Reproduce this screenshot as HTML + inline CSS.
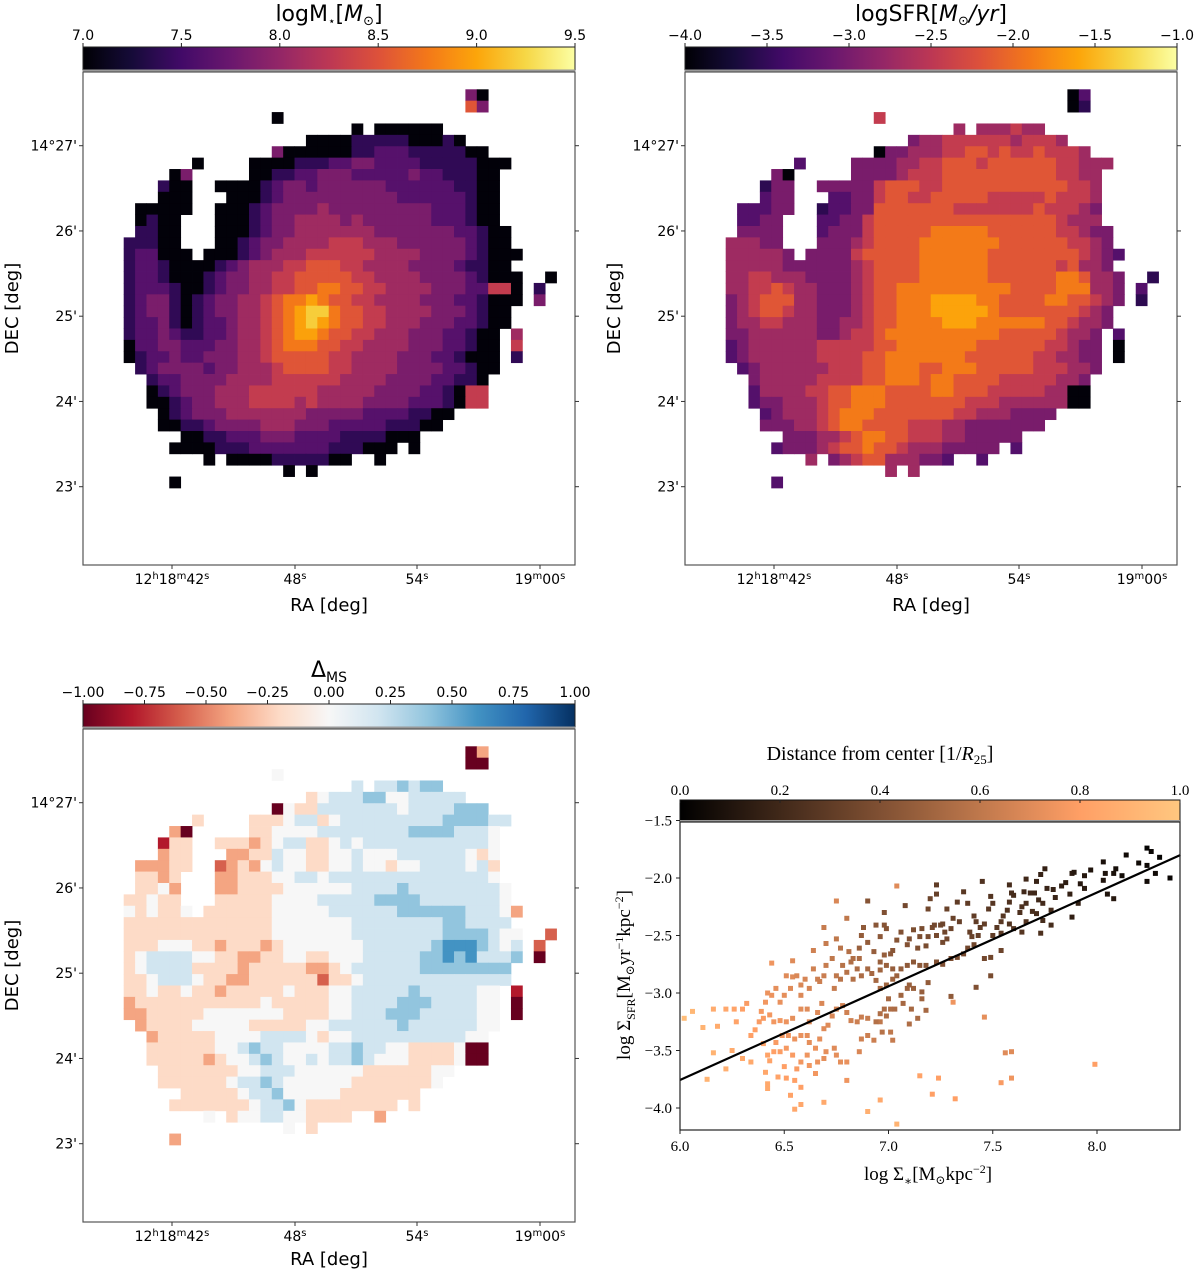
<!DOCTYPE html>
<html><head><meta charset="utf-8"><title>Galaxy maps</title>
<style>
html,body{margin:0;padding:0;background:#fff;}
svg{display:block;}
.sans{font-family:"DejaVu Sans","Liberation Sans",sans-serif;}
.serif{font-family:"Liberation Serif","DejaVu Serif",serif;}
</style></head>
<body>
<svg id="fig" width="1200" height="1271" viewBox="0 0 1200 1271" xmlns="http://www.w3.org/2000/svg">
<defs>
<linearGradient id="g-inferno" x1="0" x2="1" y1="0" y2="0"></linearGradient>
<linearGradient id="g-rdbu" x1="0" x2="1" y1="0" y2="0"></linearGradient>
<linearGradient id="g-copper" x1="0" x2="1" y1="0" y2="0"></linearGradient>
</defs>
</svg>
<script>
// ---------- data ----------
const massTicks = ["7.0","7.5","8.0","8.5","9.0","9.5"];
const sfrTicks = ["−4.0","−3.5","−3.0","−2.5","−2.0","−1.5","−1.0"];
const msTicks = ["−1.00","−0.75","−0.50","−0.25","0.00","0.25","0.50","0.75","1.00"];
const decTicks = ["14°27'","26'","25'","24'","23'"];
const distTicks = ["0.0","0.2","0.4","0.6","0.8","1.0"];
const sxTicks = [6.0,6.5,7.0,7.5,8.0];
const syTicks = [-1.5,-2.0,-2.5,-3.0,-3.5,-4.0];
const fitLine = [[6.0,-3.757],[8.4,-1.80]];

// map rows: [startColumn, "level digits"]
const massMap = [
[[30,"30"]],[[30,"63"]],[[13,"0"]],[[20,"0"],[22,"000000"]],
[[16,"00001111100010"]],
[[13,"3000000112221111100"]],
[[6,"0"],[11,"00001112233222211111000"]],
[[4,"03"],[11,"0011223332222232211100"]],
[[3,"100"],[8,"0000123323333332222221100"]],
[[3,"000"],[9,"000123333333333222222100"]],
[[1,"00000"],[8,"0001233334333333333222100"]],
[[1,"0100"],[8,"0001233444434333333222100"]],
[[1,"1100"],[8,"00012334444444333333322100"]],
[[0,"11100"],[8,"00123344445554443333332100"]],
[[0,"122000"],[7,"000123444555555444433332100"],[34,"0"]],
[[0,"1221000012344455666554444333321100"]],
[[0,"12210001233445566666554444333321000"],[37,"0"]],
[[0,"12221001233445566776655444433322550"],[36,"1"]],
[[0,"12331012334456778766554444333221000"],[36,"3"]],
[[0,"1233101233445678997665544443332100"]],
[[0,"1223101223445678987665544433322100"]],
[[0,"122321122344567887665544433322100"],[34,"4"]],
[[0,"022332223344567776655444433322100"],[34,"5"]],
[[0,"012232233344566666554444333221000"],[34,"1"]],
[[1,"12333323344456666554444333322100"]],
[[2,"122333344445555554444333322110"]],
[[2,"012333444555555444443333221055"]],
[[2,"001233444555545444433332221055"]],
[[3,"01233344444443333322221100"]],
[[3,"0011233334443332222211100"]],
[[5,"001122233322221111000"]],
[[4,"00001112222222111000"],[25,"0"]],
[[7,"0"],[9,"00001111100"],[22,"0"]],
[[14,"0"],[16,"0"]],
[[4,"0"]]
];
const sfrMap = [
[[30,"02"]],[[30,"01"]],[[13,"5"]],[[20,"4"],[22,"444544"]],
[[16,"34455555545554"]],
[[13,"0334445566565565554"]],
[[6,"2"],[11,"33334455666566666655444"]],
[[4,"30"],[11,"3333455566666666665544"]],
[[3,"133"],[8,"3333356665566666666666554"]],
[[3,"233"],[9,"223356655666665555565554"]],
[[1,"22233"],[8,"1223366666665555555655543"]],
[[1,"2233"],[8,"2233566666666666666665444"]],
[[1,"3333"],[8,"23335666667777766666655433"]],
[[0,"44433"],[8,"33345666677777776666665543"]],
[[0,"444443"],[7,"333356666677777766666666543"],[34,"2"]],
[[0,"4444433333345666677777766666656443"]],
[[0,"44554443333456666777777666666776443"],[37,"1"]],
[[0,"44556544333456677777777776666777443"],[36,"2"]],
[[0,"34566644333456677788887766667766543"],[36,"1"]],
[[0,"3456654433345667778888876666666543"]],
[[0,"3445544433445667777888777777665443"]],
[[0,"334444443345567777777777666665443"],[34,"2"]],
[[0,"234444445555566777777766666655433"],[34,"0"]],
[[0,"234444445555667777777666666554433"],[34,"0"]],
[[1,"23444444555667776677766666555443"]],
[[2,"344444555566777677666655555443"]],
[[2,"244445566777666677666555554400"]],
[[2,"233444566777666666655544444400"]],
[[3,"23444567776666666554443333"]],
[[3,"3334456776666555443333333"]],
[[5,"333445677665554433333"]],
[[4,"23334566766544433333"],[25,"2"]],
[[7,"4"],[9,"34566444332"],[22,"2"]],
[[14,"4"],[16,"4"]],
[[4,"2"]]
];
const msMap = [
[[30,"03"]],[[30,"00"]],[[13,"5"]],[[20,"6"],[22,"667677"]],
[[16,"45666775566666"]],
[[13,"0544666666656666777"]],
[[6,"4"],[11,"44456645666666666777766"]],
[[4,"30"],[11,"4455556666666677776665"]],
[[3,"144"],[8,"4443456644565666666666665"]],
[[3,"344"],[9,"334465544556555666666545"]],
[[1,"33344"],[8,"2343565544556554556666564"]],
[[1,"4434"],[8,"3344455665666666666666665"]],
[[1,"4453"],[8,"33444455555566667666666665"]],
[[0,"44544"],[8,"44444555566666777766666665"]],
[[0,"545445"],[7,"444444555556666667777776665"],[34,"3"]],
[[0,"4444444444444555555566666666776666"]],
[[0,"44444444444445555555666666667777655"],[37,"2"]],
[[0,"44455544344434555555566666678887656"],[36,"2"]],
[[0,"45666655443344554455566666778786667"],[36,"0"]],
[[0,"4566664444344444334566666677777777"]],
[[0,"4456665443344444424456666666666666"]],
[[0,"445445443444445444556666676666655"],[34,"1"]],
[[0,"344444444444544444556666777666655"],[34,"0"]],
[[0,"334444455555554444556667776666655"],[34,"0"]],
[[1,"34444555554444455666666766666655"]],
[[2,"344444555566665455666666666655"]],
[[2,"444444556766555566766554444500"]],
[[2,"444443455676556566765554444500"]],
[[3,"44444445566655555544444455"]],
[[3,"4444445667655555544444445"]],
[[5,"444445667555554444444"]],
[[4,"44444445667544444444"],[25,"4"]],
[[7,"5"],[9,"45566554444"],[22,"3"]],
[[14,"5"],[16,"4"]],
[[4,"3"]]
];

// scatter points: [logSigmaStar, logSigmaSFR, distance]
const scatterPts = [
[8.24,-1.74,.02],[8.26,-1.77,.03],[8.30,-1.82,.02],[8.35,-2.00,.03],[8.20,-1.87,.05],[8.24,-1.89,.04],[8.28,-1.96,.05],[8.24,-2.03,.06],[8.14,-1.80,.05],[8.09,-1.92,.07],[8.08,-1.96,.08],[8.12,-1.98,.06],[8.03,-1.86,.08],[8.04,-1.96,.09],[8.03,-2.02,.1],[8.05,-2.14,.1],[8.08,-2.18,.12],[7.97,-1.93,.1],[7.94,-1.98,.12],[7.92,-2.05,.12],[7.94,-2.09,.13],[7.89,-1.95,.12],[7.88,-1.96,.14],[7.85,-2.04,.14],[7.83,-2.07,.15],[7.88,-2.34,.15],[7.91,-2.22,.16],[7.87,-2.14,.16],[7.79,-2.10,.17],[7.80,-2.17,.18],[7.76,-2.09,.18],[7.75,-1.92,.16],[7.73,-1.97,.17],[7.71,-2.03,.18],[7.66,-2.01,.2],[7.70,-2.13,.2],[7.68,-2.13,.21],[7.65,-2.12,.2],[7.72,-2.19,.2],[7.74,-2.22,.21],[7.78,-2.28,.22],[7.78,-2.41,.22],[7.73,-2.48,.24],[7.74,-2.37,.22],[7.71,-2.31,.22],[7.69,-2.29,.23],[7.66,-2.22,.23],[7.64,-2.25,.24],[7.63,-2.30,.24],[7.60,-2.15,.22],[7.58,-2.06,.22],[7.59,-2.13,.23],[7.58,-2.21,.25],[7.57,-2.28,.25],[7.58,-2.40,.26],[7.60,-2.44,.26],[7.64,-2.47,.27],[7.66,-2.38,.26],[7.55,-2.33,.27],[7.54,-2.38,.28],[7.52,-2.43,.28],[7.50,-2.50,.3],[7.54,-2.48,.29],[7.50,-2.22,.27],[7.48,-2.27,.28],[7.49,-2.16,.26],[7.45,-2.03,.25],[7.41,-2.33,.3],[7.42,-2.38,.3],[7.44,-2.43,.3],[7.46,-2.40,.31],[7.43,-2.50,.32],[7.40,-2.51,.33],[7.39,-2.47,.32],[7.36,-2.12,.28],[7.38,-2.22,.3],[7.34,-2.38,.32],[7.33,-2.21,.3],[7.31,-2.35,.33],[7.30,-2.44,.34],[7.28,-2.27,.33],[7.26,-2.40,.34],[7.25,-2.41,.35],[7.27,-2.47,.35],[7.28,-2.53,.36],[7.26,-2.56,.36],[7.23,-2.06,.3],[7.23,-2.14,.32],[7.20,-2.18,.34],[7.19,-2.27,.35],[7.22,-2.41,.36],[7.23,-2.50,.37],[7.21,-2.43,.37],[7.19,-2.51,.38],[7.18,-2.59,.38],[7.16,-2.44,.38],[7.15,-2.51,.39],[7.14,-2.61,.4],[7.12,-2.45,.39],[7.10,-2.53,.4],[7.09,-2.58,.41],[7.08,-2.24,.36],[7.06,-2.47,.4],[7.04,-2.54,.42],[7.02,-2.63,.43],[7.01,-2.66,.44],[6.98,-2.30,.4],[6.98,-2.41,.42],[6.99,-2.44,.42],[6.96,-2.51,.44],[6.94,-2.41,.43],[6.90,-2.20,.42],[6.88,-2.43,.45],[6.87,-2.50,.46],[6.86,-2.61,.48],[6.90,-2.56,.46],[6.93,-2.64,.47],[6.96,-2.73,.48],[6.98,-2.67,.47],[6.99,-2.76,.48],[7.02,-2.79,.47],[7.06,-2.79,.46],[7.09,-2.76,.45],[7.12,-2.73,.44],[7.15,-2.76,.44],[7.18,-2.76,.42],[7.23,-2.73,.4],[7.26,-2.75,.4],[7.30,-2.70,.39],[7.33,-2.69,.38],[7.36,-2.66,.37],[7.38,-2.61,.36],[7.41,-2.58,.35],[7.46,-2.70,.36],[7.49,-2.69,.35],[7.54,-2.63,.34],[7.42,-2.95,.4],[7.49,-2.85,.38],[7.30,-3.03,.45],[7.19,-2.91,.46],[7.16,-2.99,.47],[7.12,-2.96,.48],[7.10,-2.93,.48],[7.09,-2.96,.49],[7.06,-3.02,.5],[7.04,-2.85,.49],[7.02,-2.88,.5],[7.00,-3.05,.52],[6.98,-3.14,.54],[6.99,-3.20,.55],[6.96,-3.18,.55],[6.94,-3.25,.56],[6.97,-3.34,.57],[7.01,-3.14,.55],[7.03,-3.14,.54],[7.07,-3.09,.52],[7.11,-3.14,.52],[7.10,-3.27,.55],[7.14,-3.22,.53],[7.18,-3.15,.52],[7.16,-3.05,.5],[6.99,-2.93,.5],[6.96,-2.96,.52],[6.94,-2.89,.52],[6.92,-2.83,.52],[6.90,-2.79,.52],[6.87,-2.85,.54],[6.85,-2.79,.54],[6.83,-2.88,.56],[6.82,-2.73,.55],[6.80,-2.82,.57],[6.78,-2.76,.57],[6.77,-2.88,.58],[6.75,-2.85,.6],[6.74,-2.96,.62],[6.73,-2.70,.6],[6.70,-2.76,.62],[6.69,-2.85,.63],[6.67,-2.90,.64],[6.66,-2.88,.64],[6.64,-2.79,.65],[6.62,-2.96,.67],[6.60,-2.88,.67],[6.58,-2.93,.68],[6.58,-3.02,.69],[6.56,-2.85,.68],[6.54,-2.86,.7],[6.53,-2.96,.7],[6.51,-2.85,.7],[6.50,-3.02,.72],[6.48,-3.08,.73],[6.46,-2.96,.72],[6.44,-3.02,.74],[6.42,-3.00,.74],[6.41,-3.08,.76],[6.39,-3.16,.77],[6.38,-3.25,.78],[6.36,-3.32,.8],[6.34,-3.37,.8],[6.32,-3.09,.78],[6.30,-3.14,.8],[6.27,-3.25,.82],[6.26,-3.14,.82],[6.22,-3.14,.84],[6.18,-3.29,.86],[6.16,-3.14,.86],[6.11,-3.30,.9],[6.06,-3.16,.92],[6.02,-3.22,.95],[6.16,-3.52,.9],[6.13,-3.75,.9],[6.22,-3.66,.88],[6.25,-3.50,.86],[6.30,-3.57,.85],[6.34,-3.60,.85],[6.40,-3.44,.82],[6.42,-3.54,.82],[6.43,-3.59,.82],[6.41,-3.69,.84],[6.42,-3.79,.85],[6.42,-3.83,.85],[6.47,-3.73,.82],[6.50,-3.64,.8],[6.51,-3.74,.8],[6.53,-3.89,.82],[6.55,-4.01,.84],[6.58,-3.97,.84],[6.58,-3.82,.8],[6.55,-3.76,.8],[6.56,-3.66,.78],[6.58,-3.60,.76],[6.61,-3.54,.75],[6.62,-3.63,.76],[6.65,-3.70,.76],[6.66,-3.60,.74],[6.69,-3.57,.72],[6.70,-3.51,.72],[6.74,-3.48,.7],[6.75,-3.54,.72],[6.77,-3.60,.72],[6.80,-3.60,.73],[6.80,-3.76,.75],[6.86,-3.51,.68],[6.87,-3.40,.65],[6.90,-3.37,.64],[6.93,-3.41,.64],[6.96,-3.25,.6],[7.01,-3.34,.6],[7.02,-3.41,.62],[6.90,-3.22,.62],[6.87,-3.21,.63],[6.85,-3.25,.64],[6.82,-3.24,.65],[6.80,-3.17,.65],[6.78,-3.11,.65],[6.75,-3.14,.66],[6.73,-3.20,.68],[6.71,-3.28,.7],[6.69,-3.31,.7],[6.67,-3.40,.72],[6.65,-3.48,.74],[6.62,-3.43,.72],[6.61,-3.37,.72],[6.58,-3.37,.73],[6.55,-3.40,.74],[6.52,-3.37,.75],[6.49,-3.37,.76],[6.46,-3.43,.78],[6.45,-3.51,.8],[6.51,-3.48,.77],[6.54,-3.54,.78],[6.48,-3.51,.79],[6.62,-3.25,.7],[6.66,-3.17,.7],[6.68,-3.09,.68],[6.61,-3.14,.7],[6.58,-3.14,.71],[6.54,-3.22,.72],[6.51,-3.25,.74],[6.48,-3.24,.76],[6.45,-3.25,.76],[6.43,-3.19,.76],[6.40,-3.22,.78],[6.69,-3.95,.85],[6.90,-4.03,.88],[6.96,-3.93,.85],[7.04,-4.14,.9],[7.15,-3.72,.82],[7.21,-3.88,.8],[7.24,-3.74,.8],[7.32,-3.92,.8],[7.31,-3.08,.75],[7.46,-3.21,.72],[7.54,-3.78,.78],[7.56,-3.52,.7],[7.59,-3.51,.7],[7.59,-3.74,.75],[7.99,-3.62,.8],[7.04,-2.07,.7],[6.75,-2.20,.68],[6.80,-2.35,.6],[6.69,-2.43,.62],[6.44,-2.74,.75],[6.54,-2.72,.7],[6.64,-2.63,.65],[6.70,-2.57,.62],[6.75,-2.53,.6],[6.77,-2.61,.58],[6.81,-2.64,.56],[6.83,-2.70,.55],[6.86,-2.70,.54],[6.96,-2.80,.5]
];

// ---------- colormaps ----------
const NS="http://www.w3.org/2000/svg";
const svg=document.getElementById('fig');
const INF=["#000004","#160b39","#420a68","#6a176e","#932667","#bc3754","#dd513a","#f37819","#fca50a","#f6d746","#fcffa4"];
const RDBU=["#67001f","#b2182b","#d6604d","#f4a582","#fddbc7","#f7f7f7","#d1e5f0","#92c5de","#4393c3","#2166ac","#053061"];
function hx(c){return [parseInt(c.slice(1,3),16),parseInt(c.slice(3,5),16),parseInt(c.slice(5,7),16)];}
function lerpMap(stops,t){t=Math.max(0,Math.min(1,t));const n=stops.length-1;const i=Math.min(n-1,Math.floor(t*n));const f=t*n-i;const a=hx(stops[i]),b=hx(stops[i+1]);return `rgb(${a.map((v,k)=>Math.round(v+(b[k]-v)*f)).join(',')})`;}
function copper(t){t=Math.max(0,Math.min(1,t));return `rgb(${Math.round(255*Math.min(1,1.25*t))},${Math.round(255*0.7812*t)},${Math.round(255*0.4975*t)})`;}
function fillGrad(id,fn){const g=document.getElementById(id);for(let i=0;i<=20;i++){const s=document.createElementNS(NS,'stop');s.setAttribute('offset',(i/20));s.setAttribute('stop-color',fn(i/20));g.appendChild(s);}}
fillGrad('g-inferno',t=>lerpMap(INF,t));
fillGrad('g-rdbu',t=>lerpMap(RDBU,t));
fillGrad('g-copper',copper);

function el(tag,attrs,parent,text){const e=document.createElementNS(NS,tag);for(const k in attrs)e.setAttribute(k,attrs[k]);if(text!==undefined)e.textContent=text;(parent||svg).appendChild(e);return e;}

// ---------- map panels ----------
const CELL=11.39;
function mapPanel(opt){
  const g=el('g',{},svg);
  
  
  const px=opt.px, py=opt.py, pw=492, ph=493;
  const t=el('text',{x:px+pw/2,y:opt.titleY,'text-anchor':'middle','font-size':'22',class:'sans'},g);
  t.innerHTML=opt.title;
  
  
  const cb=el('rect',{x:px,y:py-25,width:pw,height:23,fill:`url(#${opt.grad})`,stroke:'#222','stroke-width':1},g);
  
  
  el('line',{x1:px,x2:px+pw,y1:py-1.5,y2:py-1.5,stroke:'#999','stroke-width':2},g);
  opt.ticks.forEach((lab,i)=>{
    const x=px+pw*i/(opt.ticks.length-1);
    el('line',{x1:x,x2:x,y1:py-25,y2:py-29,stroke:'#222'},g);
    const tt=el('text',{x:x,y:py-32,'text-anchor':'middle','font-size':'14',class:'sans'},g,lab);
    
    
  });
  const cg=el('g',{},g);
  
  
  const ox=px+40.7, oy=py+17.3;
  opt.data.forEach((row,r)=>{
    row.forEach(seg=>{
      const c0=seg[0], s=seg[1];
      for(let k=0;k<s.length;k++){
        const d=+s[k];
        const rc=el('rect',{x:(ox+(c0+k)*CELL).toFixed(2),y:(oy+r*CELL).toFixed(2),width:CELL+0.4,height:CELL+0.4,fill:opt.color(d)},cg);
        
        
      }
    });
  });
  el('rect',{x:px,y:py,width:pw,height:ph,fill:'none',stroke:'#555','stroke-width':1.2},g);
  decTicks.forEach((lab,i)=>{
    const y=py+73.7+i*85.25;
    el('line',{x1:px,x2:px-4,y1:y,y2:y,stroke:'#333'},g);
    el('line',{x1:px+pw,x2:px+pw+4,y1:y,y2:y,stroke:'#333'},g);
    const tt=el('text',{x:px-6,y:y+5,'text-anchor':'end','font-size':'14',class:'sans'},g,lab);
    
    
  });
  const ra=[["12","h","18","m","42","s"],["48","s"],["54","s"],["19","m","00","s"]];
  const rx=[89,212,334,457];
  ra.forEach((parts,i)=>{
    const x=px+rx[i];
    el('line',{x1:x,x2:x,y1:py+ph,y2:py+ph+4,stroke:'#333'},g);
    const tt=el('text',{x:x,y:py+ph+19,'text-anchor':'middle','font-size':'14',class:'sans'},g);
    
    
    parts.forEach((p,j)=>{el('tspan',j%2?{'font-size':'10',dy:'-5'}:{'font-size':'14',dy:j?'5':'0'},tt,p);});
  });
  const xl=el('text',{x:px+pw/2,y:py+ph+opt.xlDy,'text-anchor':'middle','font-size':'18',class:'sans'},g,'RA [deg]');
  
  
  const yl=el('text',{x:0,y:0,'text-anchor':'middle','font-size':'18',class:'sans',transform:`translate(${px-65},${py+ph/2-10}) rotate(-90)`},g,'DEC [deg]');
  
  
}
mapPanel({name:'stellar-mass-map',px:83,py:72,titleY:21,xlDy:46,grad:'g-inferno',ticks:massTicks,data:massMap,
  title:'logM<tspan font-size="12" dy="4">⋆</tspan><tspan dy="-4">[</tspan><tspan font-style="italic">M</tspan><tspan font-size="13" dy="4">⊙</tspan><tspan dy="-4">]</tspan>',
  color:d=>lerpMap(INF,d===0?0.01:0.07+0.09*d)});
mapPanel({name:'sfr-map',px:685,py:72,titleY:21,xlDy:46,grad:'g-inferno',ticks:sfrTicks,data:sfrMap,
  title:'logSFR[<tspan font-style="italic">M</tspan><tspan font-size="13" dy="4">⊙</tspan><tspan dy="-4" font-style="italic">/yr</tspan>]',
  color:d=>lerpMap(INF,d===0?0.01:0.06+0.092*d)});
mapPanel({name:'delta-ms-map',px:83,py:729,titleY:677,xlDy:43,grad:'g-rdbu',ticks:msTicks,data:msMap,
  title:'Δ<tspan font-size="14" dy="5">MS</tspan>',
  color:d=>lerpMap(RDBU,((d-5)*0.2+1)/2)});

// ---------- scatter panel ----------
(function(){
  const g=el('g',{},svg);
  
  
  const L=680,R=1180,T=822,B=1130;
  const X0=6.0,XS=208.5,Y0=-2.0,YS=115,YP=878;
  const sx=v=>L+(v-X0)*XS, sy=v=>YP-(v-Y0)*YS;
  const ti=el('text',{x:880,y:760,'text-anchor':'middle','font-size':'20',class:'serif'},g);
  ti.innerHTML='Distance from center [1/<tspan font-style="italic">R</tspan><tspan font-size="13" dy="4">25</tspan><tspan dy="-4">]</tspan>';
  
  
  const cb=el('rect',{x:L,y:T-22,width:R-L,height:21,fill:'url(#g-copper)',stroke:'#111'},g);
  
  
  el('line',{x1:L,x2:R,y1:T-1,y2:T-1,stroke:'#999','stroke-width':2},g);
  distTicks.forEach((lab,i)=>{
    const x=L+(R-L)*i/(distTicks.length-1);
    el('line',{x1:x,x2:x,y1:T-22,y2:T-19,stroke:'#222'},g);
    const tt=el('text',{x:x,y:T-27,'text-anchor':'middle','font-size':'15',class:'serif'},g,lab);
    
    
  });
  const pts=el('g',{},g);
  
  
  scatterPts.slice().sort((a,b)=>b[2]-a[2]).forEach(p=>{
    const x=sx(p[0]), y=sy(p[1]);
    if(x<L||x>R+3||y<T||y>B)return;
    const r=el('rect',{x:(x-2.5).toFixed(1),y:(y-2.5).toFixed(1),width:5,height:5,fill:copper(p[2])},pts);
    
    
  });
  const fl=el('line',{x1:sx(fitLine[0][0]),y1:sy(fitLine[0][1]),x2:sx(fitLine[1][0]),y2:sy(fitLine[1][1]),stroke:'#000','stroke-width':2.2},g);
  
  
  el('rect',{x:L,y:T,width:R-L,height:B-T,fill:'none',stroke:'#222','stroke-width':1.2},g);
  sxTicks.forEach(v=>{
    const x=sx(v);
    el('line',{x1:x,x2:x,y1:B,y2:B+4,stroke:'#222'},g);
    const tt=el('text',{x:x,y:B+21,'text-anchor':'middle','font-size':'15',class:'serif'},g,v.toFixed(1));
    
    
  });
  syTicks.forEach(v=>{
    const y=sy(v);
    el('line',{x1:L,x2:L-4,y1:y,y2:y,stroke:'#222'},g);
    const tt=el('text',{x:L-8,y:y+5,'text-anchor':'end','font-size':'15',class:'serif'},g,'−'+Math.abs(v).toFixed(1));
    
    
  });
  const xl=el('text',{x:928,y:1180,'text-anchor':'middle','font-size':'19',class:'serif'},g);
  xl.innerHTML='log Σ<tspan font-size="12" dy="5">∗</tspan><tspan dy="-5">[M</tspan><tspan font-size="12" dy="4">⊙</tspan><tspan dy="-4">kpc</tspan><tspan font-size="12" dy="-7">−2</tspan><tspan dy="7">]</tspan>';
  
  
  const yl=el('text',{x:0,y:0,'text-anchor':'middle','font-size':'19',class:'serif',transform:'translate(630,975) rotate(-90)'},g);
  yl.innerHTML='log Σ<tspan font-size="12" dy="5">SFR</tspan><tspan dy="-5">[M</tspan><tspan font-size="12" dy="4">⊙</tspan><tspan dy="-4">yr</tspan><tspan font-size="12" dy="-7">−1</tspan><tspan dy="7">kpc</tspan><tspan font-size="12" dy="-7">−2</tspan><tspan dy="7">]</tspan>';
  
  
})();
</script>
</body></html>
